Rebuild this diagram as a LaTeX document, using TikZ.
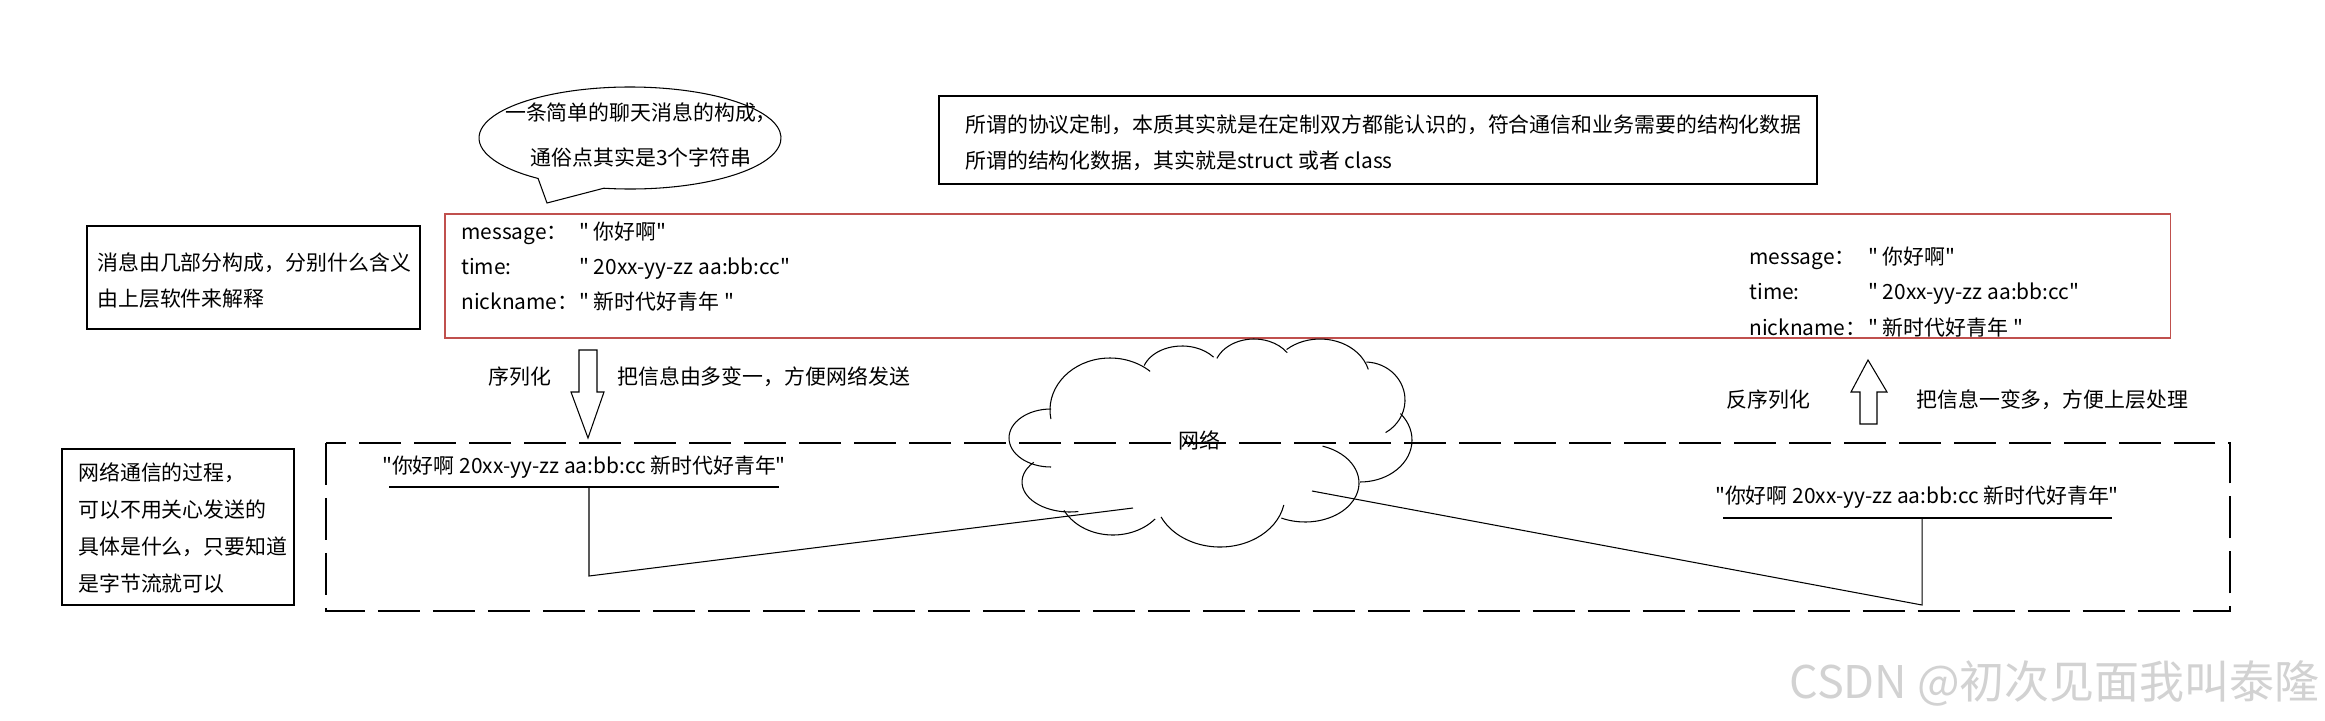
\documentclass[tikz,border=0pt]{standalone}
\usepackage{fontspec}
\usepackage{xcolor}
\usepackage{tikz}
\usetikzlibrary{arrows.meta, positioning, calc}
\newfontfamily\zhfont{Noto Sans CJK SC}
\definecolor{kred}{HTML}{C0504D}
\definecolor{kmark}{HTML}{D2D2D2}
\tikzset{
  zh/.style={font=\zhfont\fontsize{11.9pt}{20.5pt}\selectfont, inner sep=0pt, align=left},
  ln/.style={line width=0.6pt},
  netbox/.style={line width=0.7pt, dash pattern=on 0.84cm off 0.26cm},
}

\begin{document}
\begin{tikzpicture}[x=0.02cm, y=-0.02cm]
\fill[white] (0,0) rectangle (2325,720);
% speech bubble
\draw[ln] (630,138) ++(100:151 and 51)
  arc[start angle=100, end angle=-232.5, x radius=151, y radius=51] -- (547,203) -- cycle;
\node[zh, align=center, font=\zhfont\fontsize{11.9pt}{26pt}\selectfont] (bubble) at (641,135)
  {一条简单的聊天消息的构成，\\通俗点其实是3个字符串};
% protocol note
\draw[ln] (939,96) rectangle (1817,184);
\node[zh, anchor=west, font=\zhfont\fontsize{11.9pt}{20.5pt}\selectfont] (proto) at (965,143)
  {所谓的协议定制，本质其实就是在定制双方都能认识的，符合通信和业务需要的结构化数据\\所谓的结构化数据，其实就是struct 或者 class};
% upper left note
\draw[ln] (87,226) rectangle (420,329);
\node[zh, anchor=west] (layer) at (97,281) {消息由几部分构成，分别什么含义\\由上层软件来解释};
% structured message
\draw[kred, ln] (445,214) rectangle (2170,338);
\node[zh, anchor=west, font=\zhfont\fontsize{11.9pt}{19.9pt}\selectfont] (fieldsL) at (461,267)
  {\makebox[2.36cm][l]{message：}" 你好啊"\\\makebox[2.36cm][l]{time:}" 20xx-yy-zz aa:bb:cc"\\\makebox[2.36cm][l]{nickname：}" 新时代好青年 "};
\node[zh, anchor=west, font=\zhfont\fontsize{11.9pt}{20.2pt}\selectfont] (fieldsR) at (1749,292)
  {\makebox[2.38cm][l]{message：}" 你好啊"\\\makebox[2.38cm][l]{time:}" 20xx-yy-zz aa:bb:cc"\\\makebox[2.38cm][l]{nickname：}" 新时代好青年 "};
% serialize / deserialize
\draw[ln] (579,350) -- (597,350) -- (597,392) -- (604,392) -- (588,438) -- (571,392) -- (579,392) -- cycle;
\node[zh, anchor=west] (ser) at (488,377) {序列化};
\node[zh, anchor=west] (serdesc) at (617,377) {把信息由多变一，方便网络发送};
\draw[ln] (1860,424) -- (1877,424) -- (1877,392) -- (1887,392) -- (1868,360) -- (1851,392) -- (1860,392) -- cycle;
\node[zh, anchor=west] (deser) at (1726,400) {反序列化};
\node[zh, anchor=west] (deserdesc) at (1916,400) {把信息一变多，方便上层处理};
% network area
\draw[netbox] (326,443) rectangle (2230,611);
\draw[ln] (62,449) rectangle (294,605);
\node[zh, anchor=west, font=\zhfont\fontsize{11.9pt}{20.9pt}\selectfont] (stream) at (78,528)
  {网络通信的过程，\\可以不用关心发送的\\具体是什么，只要知道\\是字节流就可以};
% cloud
\draw[ln] (1051,438) ++(270:42 and 29) arc[start angle=270, end angle=90, x radius=42, y radius=29];
\draw[ln] (1110,410) ++(170:60 and 52) arc[start angle=170, end angle=312, x radius=60, y radius=52];
\draw[ln] (1182,375) ++(199:40 and 29) arc[start angle=199, end angle=322, x radius=40, y radius=29];
\draw[ln] (1254,370) ++(202:40 and 31) arc[start angle=202, end angle=326, x radius=40, y radius=31];
\draw[ln] (1320,380) ++(228:50 and 41) arc[start angle=228, end angle=345, x radius=50, y radius=41];
\draw[ln] (1365,400) ++(-88:40 and 38) arc[start angle=-88, end angle=59, x radius=40, y radius=38];
\draw[ln] (1360,440) ++(-39:52 and 42) arc[start angle=-39, end angle=90, x radius=52, y radius=42];
\draw[ln] (1305,483) ++(-71:54 and 39) arc[start angle=-71, end angle=116, x radius=54, y radius=39];
\draw[ln] (1220,495) ++(11:65 and 52) arc[start angle=11, end angle=155, x radius=65, y radius=52];
\draw[ln] (1113,490) ++(40:55 and 45) arc[start angle=40, end angle=153, x radius=55, y radius=45];
\draw[ln] (1070,482) ++(80:48 and 30) arc[start angle=80, end angle=221, x radius=48, y radius=30];
\node[zh] (net) at (1199,440) {网络};
\coordinate (netL) at (1133,508);
\coordinate (netR) at (1312,491);
% byte streams
\node[zh] (bytesL) at (584,467) {"你好啊 20xx-yy-zz aa:bb:cc 新时代好青年"};
\draw[ln] (389,487) -- (779,487);
\coordinate (barL) at (589,487);
\coordinate (bendL) at (589,576);
\draw[ln] (barL) -- (bendL) -- (netL);
\node[zh] (bytesR) at (1917,497) {"你好啊 20xx-yy-zz aa:bb:cc 新时代好青年"};
\draw[ln] (1723,518) -- (2112,518);
\coordinate (barR) at (1922,518);
\coordinate (bendR) at (1922,605);
\draw[ln] (netR) -- (bendR) -- (barR);
% watermark
\node[font=\zhfont\fontsize{25.6pt}{30pt}\selectfont, text=kmark, anchor=east, inner sep=0pt] (mark) at (2320,683) {CSDN @初次见面我叫泰隆};
\end{tikzpicture}
\end{document}
